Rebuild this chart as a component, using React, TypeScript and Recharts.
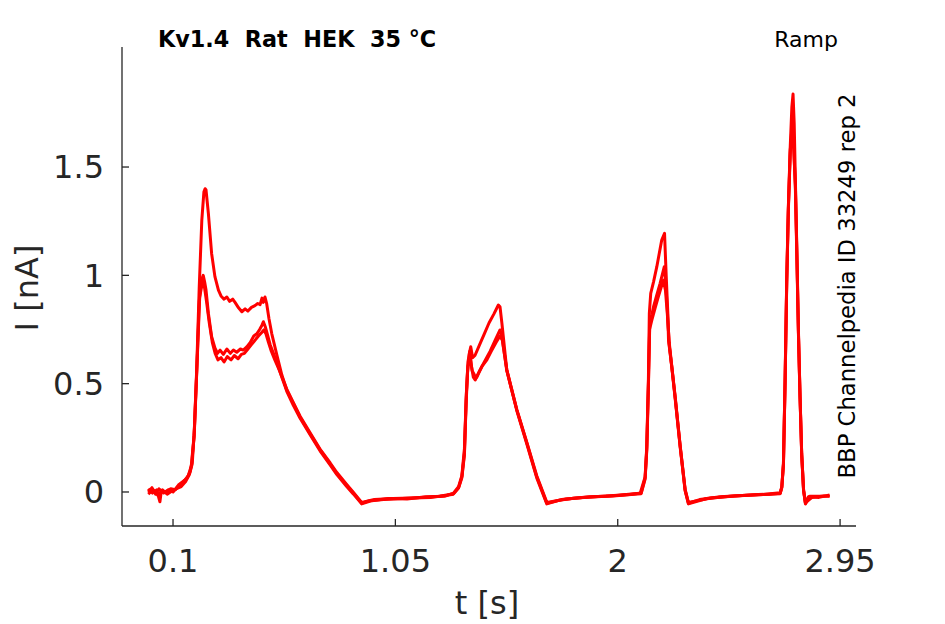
import React from 'react';
import { LineChart, Line, XAxis, YAxis } from 'recharts';

// three repetitions of the ramp protocol, [t (s), I (nA)]
const rep1: [number, number][] = [
  [-0.006, 0.0], [0.01, 0.02], [0.025, -0.01], [0.04, 0.015], [0.06, -0.005], [0.08, 0.01], [0.1, 0.0],
  [0.123, 0.032], [0.145, 0.05], [0.159, 0.063], [0.173, 0.094], [0.18, 0.132], [0.19, 0.255], [0.201, 0.563],
  [0.212, 0.947], [0.223, 1.255], [0.232, 1.386], [0.237, 1.4], [0.241, 1.394], [0.251, 1.286], [0.265, 1.1],
  [0.279, 0.994], [0.294, 0.932], [0.305, 0.905], [0.318, 0.89], [0.33, 0.9], [0.342, 0.88], [0.355, 0.89],
  [0.365, 0.875], [0.38, 0.85], [0.394, 0.832], [0.408, 0.845], [0.42, 0.835], [0.435, 0.852], [0.45, 0.86],
  [0.462, 0.87], [0.472, 0.865], [0.48, 0.895], [0.486, 0.875], [0.493, 0.9], [0.5, 0.87], [0.51, 0.8],
  [0.522, 0.73], [0.543, 0.635], [0.565, 0.54], [0.586, 0.47], [0.614, 0.41], [0.643, 0.345], [0.685, 0.27],
  [0.728, 0.195], [0.771, 0.13], [0.8, 0.085], [0.842, 0.03], [0.871, -0.006], [0.906, -0.052], [0.94, -0.04],
  [1.0, -0.035], [1.08, -0.03], [1.16, -0.025], [1.24, -0.02], [1.298, -0.008], [1.32, 0.02], [1.334, 0.07],
  [1.345, 0.18], [1.352, 0.4], [1.358, 0.55], [1.366, 0.64], [1.372, 0.67], [1.38, 0.62], [1.39, 0.63],
  [1.41, 0.68], [1.43, 0.73], [1.45, 0.78], [1.47, 0.82], [1.49, 0.863], [1.497, 0.855], [1.505, 0.78],
  [1.526, 0.563], [1.547, 0.471], [1.569, 0.378], [1.612, 0.225], [1.654, 0.07], [1.697, -0.052], [1.75, -0.038],
  [1.811, -0.029], [1.9, -0.022], [2.0, -0.015], [2.096, -0.006], [2.117, 0.07], [2.124, 0.209], [2.131, 0.517],
  [2.135, 0.825], [2.141, 0.917], [2.153, 0.97], [2.167, 1.04], [2.188, 1.163], [2.2, 1.194], [2.207, 1.0],
  [2.214, 0.825], [2.217, 0.7], [2.231, 0.578], [2.245, 0.44], [2.267, 0.209], [2.288, 0.009], [2.302, -0.052],
  [2.35, -0.035], [2.438, -0.022], [2.55, -0.015], [2.65, -0.01], [2.694, -0.006], [2.701, 0.025], [2.708, 0.132],
  [2.715, 0.517], [2.722, 0.98], [2.729, 1.317], [2.737, 1.593], [2.744, 1.778], [2.749, 1.837], [2.754, 1.7],
  [2.759, 1.44], [2.765, 1.13], [2.772, 0.748], [2.779, 0.44], [2.786, 0.178], [2.794, 0.009], [2.802, -0.052],
  [2.815, -0.022], [2.86, -0.025], [2.905, -0.014],
];

const rep2: [number, number][] = [
  [-0.006, 0.015], [0.012, -0.005], [0.03, 0.01], [0.044, -0.045], [0.05, 0.005], [0.07, 0.0], [0.09, 0.015],
  [0.11, 0.01], [0.13, 0.035], [0.15, 0.055], [0.165, 0.075], [0.178, 0.12], [0.19, 0.26], [0.201, 0.55],
  [0.212, 0.88], [0.222, 0.98], [0.229, 1.0], [0.235, 0.97], [0.241, 0.932], [0.251, 0.825], [0.265, 0.717],
  [0.279, 0.665], [0.29, 0.64], [0.301, 0.655], [0.315, 0.635], [0.33, 0.66], [0.345, 0.64], [0.358, 0.655],
  [0.372, 0.645], [0.388, 0.66], [0.4, 0.655], [0.415, 0.67], [0.43, 0.69], [0.445, 0.72], [0.458, 0.73],
  [0.47, 0.75], [0.48, 0.77], [0.486, 0.786], [0.495, 0.76], [0.505, 0.72], [0.515, 0.68], [0.529, 0.64],
  [0.543, 0.6], [0.565, 0.53], [0.586, 0.465], [0.614, 0.4], [0.643, 0.34], [0.685, 0.265], [0.728, 0.19],
  [0.771, 0.125], [0.8, 0.08], [0.842, 0.025], [0.871, -0.01], [0.906, -0.055], [0.95, -0.04], [1.02, -0.03],
  [1.1, -0.032], [1.18, -0.022], [1.26, -0.02], [1.298, -0.005], [1.32, 0.025], [1.334, 0.075], [1.345, 0.2],
  [1.352, 0.42], [1.36, 0.6], [1.368, 0.65], [1.375, 0.58], [1.383, 0.53], [1.391, 0.517], [1.41, 0.56],
  [1.43, 0.6], [1.455, 0.65], [1.476, 0.7], [1.497, 0.748], [1.505, 0.72], [1.526, 0.56], [1.547, 0.47],
  [1.569, 0.375], [1.612, 0.22], [1.654, 0.065], [1.697, -0.055], [1.76, -0.035], [1.85, -0.025], [1.95, -0.02],
  [2.05, -0.012], [2.1, -0.005], [2.117, 0.065], [2.124, 0.2], [2.131, 0.5], [2.137, 0.78], [2.146, 0.82],
  [2.153, 0.855], [2.167, 0.91], [2.181, 0.963], [2.199, 1.04], [2.206, 0.95], [2.214, 0.8], [2.22, 0.68],
  [2.231, 0.575], [2.245, 0.435], [2.267, 0.205], [2.288, 0.005], [2.302, -0.055], [2.38, -0.03], [2.48, -0.02],
  [2.6, -0.012], [2.694, -0.008], [2.701, 0.02], [2.708, 0.125], [2.715, 0.5], [2.722, 0.96], [2.729, 1.3],
  [2.737, 1.56], [2.745, 1.7], [2.751, 1.62], [2.759, 1.4], [2.765, 1.1], [2.772, 0.73], [2.779, 0.43],
  [2.786, 0.17], [2.794, 0.005], [2.802, -0.055], [2.82, -0.02], [2.87, -0.02], [2.905, -0.018],
];

const rep3: [number, number][] = [
  [-0.006, -0.01], [0.015, 0.01], [0.035, -0.015], [0.055, 0.01], [0.075, -0.01], [0.095, 0.005], [0.115, 0.015],
  [0.135, 0.025], [0.155, 0.05], [0.17, 0.08], [0.182, 0.13], [0.192, 0.3], [0.203, 0.6], [0.214, 0.9],
  [0.226, 0.97], [0.233, 0.955], [0.243, 0.88], [0.255, 0.78], [0.268, 0.69], [0.28, 0.64], [0.292, 0.61],
  [0.305, 0.62], [0.318, 0.6], [0.332, 0.625], [0.348, 0.61], [0.362, 0.63], [0.378, 0.615], [0.392, 0.635],
  [0.405, 0.64], [0.42, 0.66], [0.435, 0.68], [0.45, 0.7], [0.465, 0.72], [0.478, 0.735], [0.488, 0.748],
  [0.497, 0.73], [0.508, 0.69], [0.52, 0.65], [0.535, 0.61], [0.555, 0.56], [0.586, 0.475], [0.614, 0.412],
  [0.643, 0.35], [0.685, 0.275], [0.728, 0.198], [0.771, 0.135], [0.8, 0.09], [0.842, 0.035], [0.871, -0.002],
  [0.906, -0.048], [0.96, -0.035], [1.04, -0.03], [1.12, -0.028], [1.2, -0.025], [1.27, -0.015], [1.298, -0.01],
  [1.32, 0.018], [1.334, 0.065], [1.345, 0.17], [1.353, 0.45], [1.36, 0.58], [1.37, 0.62], [1.378, 0.56],
  [1.388, 0.54], [1.398, 0.53], [1.42, 0.58], [1.441, 0.61], [1.46, 0.65], [1.48, 0.69], [1.497, 0.72],
  [1.507, 0.7], [1.526, 0.565], [1.547, 0.475], [1.569, 0.38], [1.612, 0.228], [1.654, 0.075], [1.697, -0.048],
  [1.78, -0.032], [1.88, -0.022], [1.98, -0.018], [2.07, -0.01], [2.1, -0.008], [2.117, 0.06], [2.124, 0.19],
  [2.131, 0.48], [2.136, 0.75], [2.146, 0.794], [2.16, 0.85], [2.173, 0.9], [2.195, 0.978], [2.204, 0.93],
  [2.212, 0.82], [2.22, 0.69], [2.231, 0.58], [2.245, 0.445], [2.267, 0.212], [2.288, 0.012], [2.302, -0.048],
  [2.4, -0.028], [2.5, -0.018], [2.62, -0.012], [2.694, -0.004], [2.701, 0.022], [2.708, 0.13], [2.715, 0.51],
  [2.722, 0.97], [2.729, 1.31], [2.737, 1.58], [2.746, 1.66], [2.752, 1.58], [2.759, 1.42], [2.765, 1.12],
  [2.772, 0.74], [2.779, 0.435], [2.786, 0.175], [2.794, 0.01], [2.802, -0.05], [2.83, -0.025], [2.88, -0.018],
  [2.905, -0.02],
];

const xTicks = [0.1, 1.05, 2, 2.95];
const yTicks = [0, 0.5, 1, 1.5];

const AXIS = '#262626';
const FONT = '"DejaVu Sans", sans-serif';

const toRows = (rep: [number, number][]) => rep.map(([t, i]) => ({ t, i }));
const traces = [rep1, rep2, rep3].map(toRows);

export default function App() {
  return (
    <div style={{ position: 'absolute', left: 0, top: 0, width: 945, height: 624, background: '#fff' }}>
      <LineChart width={945} height={624} margin={{ top: 47, right: 89, bottom: 0, left: 0 }}>
        <XAxis
          type="number"
          dataKey="t"
          domain={[-0.118, 3.018]}
          ticks={xTicks}
          interval={0}
          allowDataOverflow
          height={98}
          tickSize={-7}
          tickMargin={30}
          axisLine={{ stroke: AXIS, strokeWidth: 1.3 }}
          tickLine={{ stroke: AXIS, strokeWidth: 1.3 }}
          tick={{ fill: AXIS, fontSize: 32, fontFamily: FONT }}
        />
        <YAxis
          type="number"
          domain={[-0.157, 2.054]}
          ticks={yTicks}
          interval={0}
          allowDataOverflow
          width={122}
          tickSize={-7}
          tickMargin={25}
          axisLine={{ stroke: AXIS, strokeWidth: 1.3 }}
          tickLine={{ stroke: AXIS, strokeWidth: 1.3 }}
          tick={{ fill: AXIS, fontSize: 32, fontFamily: FONT }}
        />
        {traces.map((rows, k) => (
          <Line
            key={k}
            data={rows}
            dataKey="i"
            type="linear"
            stroke="#ff0000"
            strokeWidth={3}
            strokeLinejoin="round"
            dot={false}
            isAnimationActive={false}
          />
        ))}
      </LineChart>
      <svg width={945} height={624} style={{ position: 'absolute', left: 0, top: 0, pointerEvents: 'none' }}>
        <text x={158} y={47} fontSize={22.3} fontWeight="bold" fontFamily={FONT} fill="#000">
          {'Kv1.4\u00A0\u00A0Rat\u00A0\u00A0HEK\u00A0\u00A035\u00A0°C'}
        </text>
        <text x={838} y={47} fontSize={22} fontFamily={FONT} fill="#000" textAnchor="end">
          Ramp
        </text>
        <text
          transform="translate(855,286) rotate(-90)"
          fontSize={22.7}
          fontFamily={FONT}
          fill="#000"
          textAnchor="middle"
        >
          BBP Channelpedia ID 33249 rep 2
        </text>
        <text
          transform="translate(38,288) rotate(-90)"
          fontSize={32}
          fontFamily={FONT}
          fill={AXIS}
          textAnchor="middle"
        >
          I [nA]
        </text>
        <text x={487} y={614} fontSize={32} fontFamily={FONT} fill={AXIS} textAnchor="middle">
          t [s]
        </text>
      </svg>
    </div>
  );
}
